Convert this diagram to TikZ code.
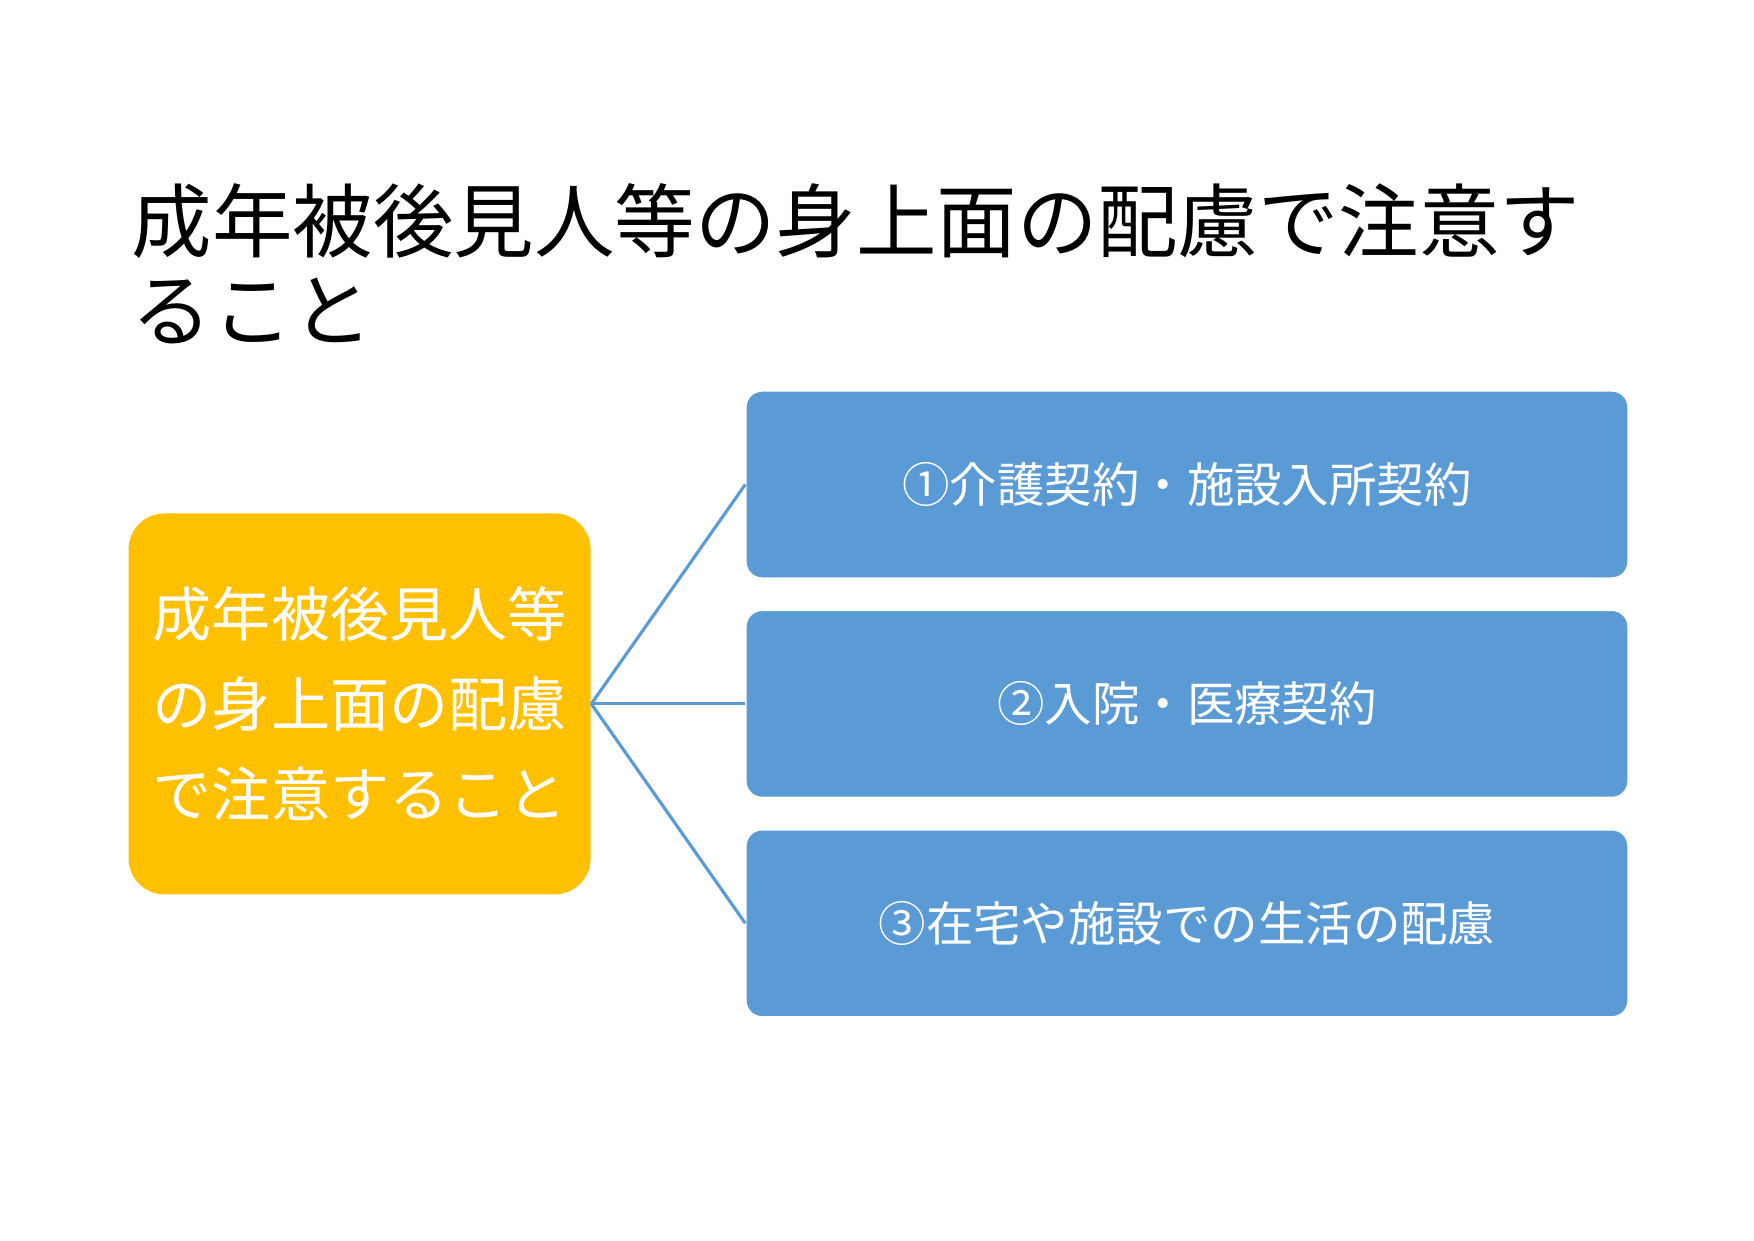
\documentclass[tikz,border=0pt]{standalone}
\usepackage{fontspec}
\setmainfont{Noto Sans CJK JP}
\usetikzlibrary{positioning}
\definecolor{itemblue}{HTML}{5B9BD5}
\definecolor{topicgold}{HTML}{FFC000}

\begin{document}
\begin{tikzpicture}[auto, node distance=0.31cm,
	item/.style={draw=white, fill=itemblue, rectangle, rounded corners=0.16cm, minimum width=8.82cm, minimum height=1.87cm, text=white, font=\fontsize{13.5pt}{16pt}\selectfont},
	topic/.style={fill=topicgold, rectangle, rounded corners=0.36cm, minimum width=4.62cm, minimum height=3.81cm, text=white, align=center, font=\fontsize{16.8pt}{25.6pt}\selectfont},
	heading/.style={anchor=base west, inner sep=0pt, font=\fontsize{22.9pt}{25pt}\selectfont},
	link/.style={draw=itemblue, line width=0.9pt}]
	\useasboundingbox (0,0) rectangle (17.54,12.40);
	
	% Title
	\node [heading] (title1) at (1.31,9.88) {成年被後見人等の身上面の配慮で注意す};
	\node [heading] (title2) at (1.31,9.00) {ること};
	
	% Define nodes
	\node [item] (care) at (11.87,7.555) {①介護契約・施設入所契約};
	\node [item, below=of care] (hospital) {②入院・医療契約};
	\node [item, below=of hospital] (living) {③在宅や施設での生活の配慮};
	\node [topic, left=1.54cm of hospital] (topic) {成年被後見人等\\の身上面の配慮\\で注意すること};
	
	% Lines from the topic to each item
	\foreach \n in {care, hospital, living}
		\draw [link] (topic.east) -- (\n.west);
\end{tikzpicture}
\end{document}
